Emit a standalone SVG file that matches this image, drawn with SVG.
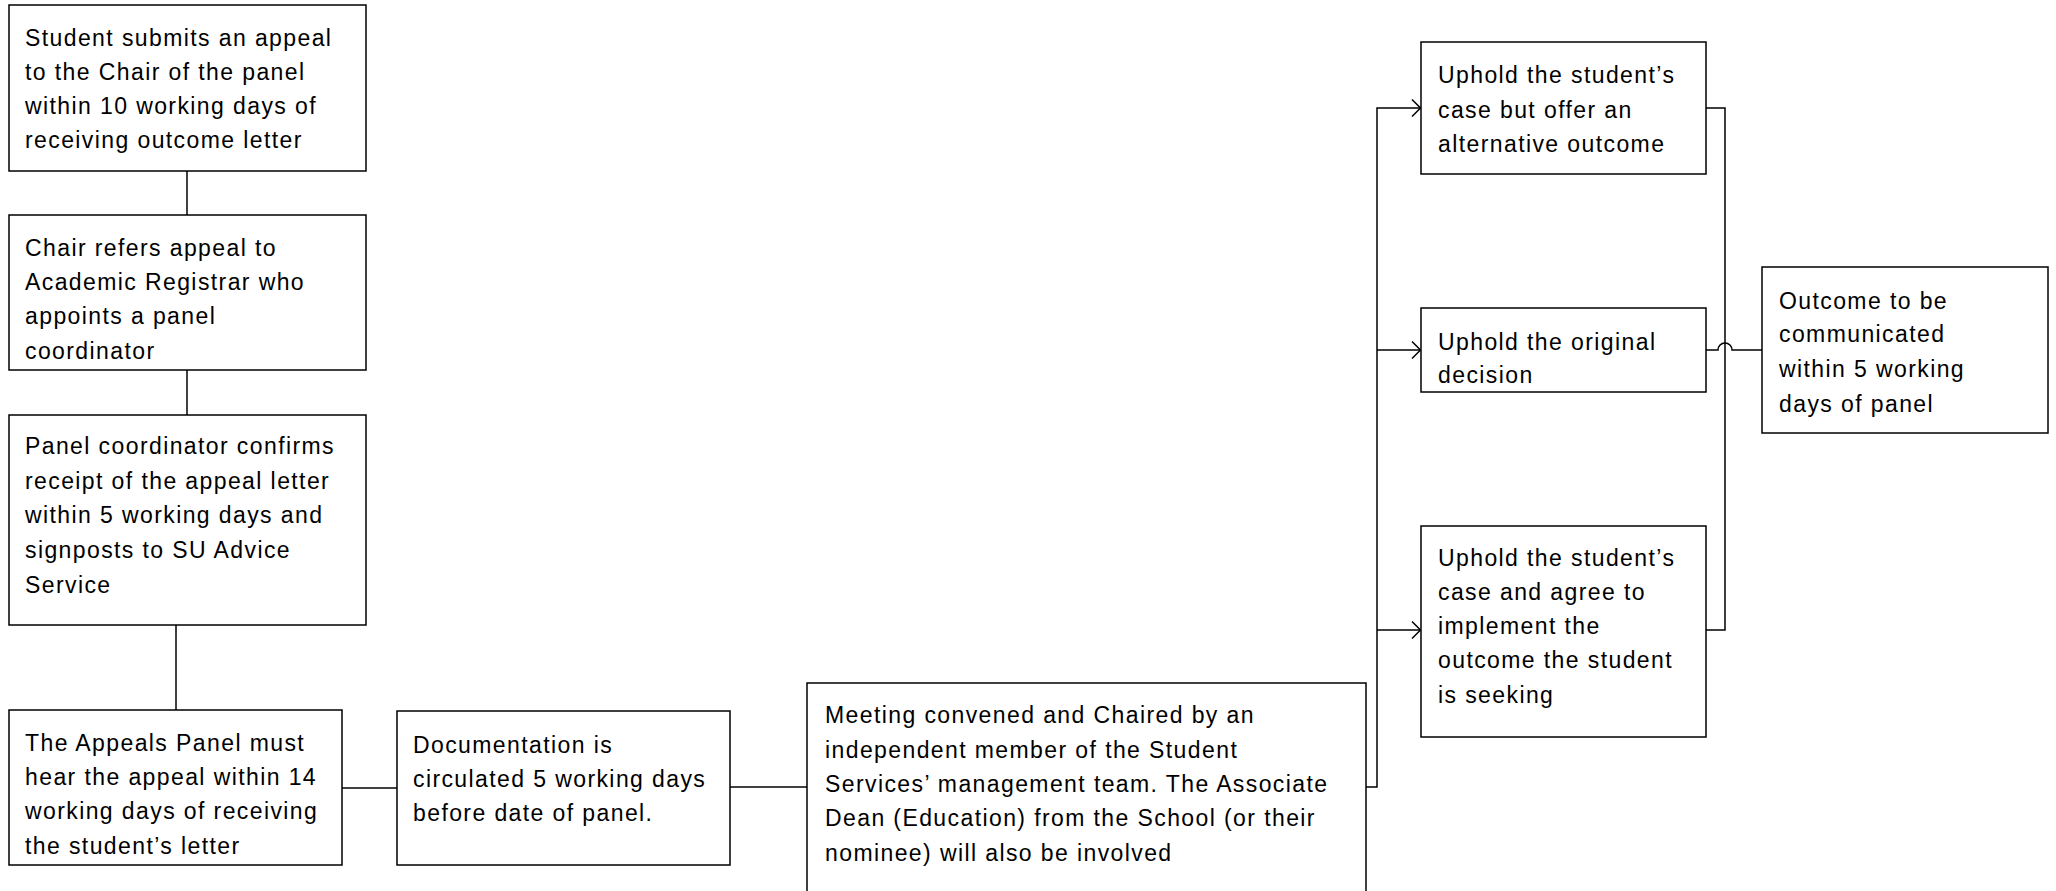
<svg xmlns="http://www.w3.org/2000/svg" width="2056" height="891" viewBox="0 0 2056 891">
<style>
.box{fill:#fff;stroke:#000;stroke-width:1.5}
.t{font-family:"Liberation Sans",Arial,sans-serif;font-size:23px;letter-spacing:1.4px;fill:#000}
.c{fill:none;stroke:#000;stroke-width:1.5}
</style>
<defs>
<marker id="arr" markerUnits="userSpaceOnUse" markerWidth="14" markerHeight="20" refX="10" refY="9" orient="auto">
<path d="M1,0.5 L9.5,9 L1,17.5" fill="none" stroke="#000" stroke-width="1.5"/>
</marker>
</defs>
<rect width="2056" height="891" fill="#fff"/>
<g id="connectors">
<path class="c" d="M187,171 V215"/>
<path class="c" d="M187,370 V415"/>
<path class="c" d="M176,625 V710"/>
<path class="c" d="M342,788 H397"/>
<path class="c" d="M730,787 H807"/>
<path class="c" d="M1366,787 H1377 V108 H1421" marker-end="url(#arr)"/>
<path class="c" d="M1377,350 H1421" marker-end="url(#arr)"/>
<path class="c" d="M1377,630 H1421" marker-end="url(#arr)"/>
<path class="c" d="M1706,108 H1725 V630 H1706"/>
<path class="c" d="M1706,350 H1718 A7,7 0 0 1 1732,350 H1762"/>
</g>
<g id="n1">
<rect class="box" x="9" y="5" width="357" height="166"/>
<text class="t" x="25" y="46">Student submits an appeal</text>
<text class="t" x="25" y="80">to the Chair of the panel</text>
<text class="t" x="25" y="114">within 10 working days of</text>
<text class="t" x="25" y="148">receiving outcome letter</text>
</g>
<g id="n2">
<rect class="box" x="9" y="215" width="357" height="155"/>
<text class="t" x="25" y="256">Chair refers appeal to</text>
<text class="t" x="25" y="290">Academic Registrar who</text>
<text class="t" x="25" y="324">appoints a panel</text>
<text class="t" x="25" y="359">coordinator</text>
</g>
<g id="n3">
<rect class="box" x="9" y="415" width="357" height="210"/>
<text class="t" x="25" y="454">Panel coordinator confirms</text>
<text class="t" x="25" y="489">receipt of the appeal letter</text>
<text class="t" x="25" y="523">within 5 working days and</text>
<text class="t" x="25" y="558">signposts to SU Advice</text>
<text class="t" x="25" y="593">Service</text>
</g>
<g id="n4">
<rect class="box" x="9" y="710" width="333" height="155"/>
<text class="t" x="25" y="751">The Appeals Panel must</text>
<text class="t" x="25" y="785">hear the appeal within 14</text>
<text class="t" x="25" y="819">working days of receiving</text>
<text class="t" x="25" y="854">the student’s letter</text>
</g>
<g id="n5">
<rect class="box" x="397" y="711" width="333" height="154"/>
<text class="t" x="413" y="753">Documentation is</text>
<text class="t" x="413" y="787">circulated 5 working days</text>
<text class="t" x="413" y="821">before date of panel.</text>
</g>
<g id="n6">
<rect class="box" x="807" y="683" width="559" height="220"/>
<text class="t" x="825" y="723">Meeting convened and Chaired by an</text>
<text class="t" x="825" y="758">independent member of the Student</text>
<text class="t" x="825" y="792">Services’ management team. The Associate</text>
<text class="t" x="825" y="826">Dean (Education) from the School (or their</text>
<text class="t" x="825" y="861">nominee) will also be involved</text>
</g>
<g id="n7">
<rect class="box" x="1421" y="42" width="285" height="132"/>
<text class="t" x="1438" y="83">Uphold the student’s</text>
<text class="t" x="1438" y="118">case but offer an</text>
<text class="t" x="1438" y="152">alternative outcome</text>
</g>
<g id="n8">
<rect class="box" x="1421" y="308" width="285" height="84"/>
<text class="t" x="1438" y="350">Uphold the original</text>
<text class="t" x="1438" y="383">decision</text>
</g>
<g id="n9">
<rect class="box" x="1421" y="526" width="285" height="211"/>
<text class="t" x="1438" y="566">Uphold the student’s</text>
<text class="t" x="1438" y="600">case and agree to</text>
<text class="t" x="1438" y="634">implement the</text>
<text class="t" x="1438" y="668">outcome the student</text>
<text class="t" x="1438" y="703">is seeking</text>
</g>
<g id="n10">
<rect class="box" x="1762" y="267" width="286" height="166"/>
<text class="t" x="1779" y="309">Outcome to be</text>
<text class="t" x="1779" y="342">communicated</text>
<text class="t" x="1779" y="377">within 5 working</text>
<text class="t" x="1779" y="412">days of panel</text>
</g>
</svg>
